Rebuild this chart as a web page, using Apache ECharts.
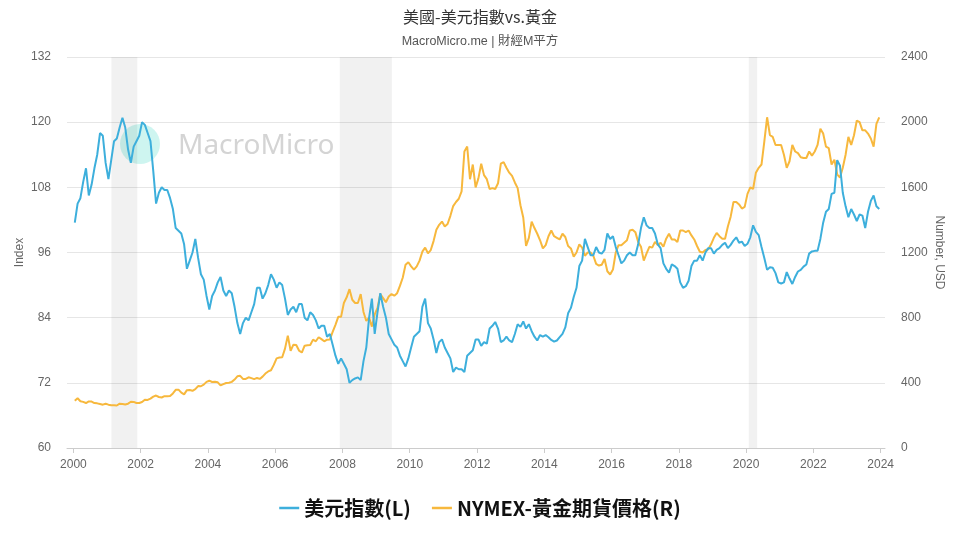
<!DOCTYPE html>
<html><head><meta charset="utf-8">
<script src="https://cdn.jsdelivr.net/npm/echarts@6/dist/echarts.min.js"></script>
<style>html,body{margin:0;padding:0;background:#fff}#c{width:960px;height:540px}</style>
</head><body><div id="c"></div>
<script>
// Monthly data, Jan 2000 .. Dec 2023
var startYear = 2000;
var dxy = [
 101.5,105,106,109,111.5,106.5,108.5,111.5,114,118,117.5,112.5,
 109.5,113,116.5,117,119,120.8,119,115,112.5,115.5,116.5,117.5,
 120,119.5,118,116.5,111,105,107,108,107.5,107.5,106,104,
 100.5,100,99.5,97.5,93,94.5,96,98.5,95,92,91,88,
 85.5,88,89,90.5,91.5,89,88,89,88.5,86,83,81,
 83,84,83.5,85,86.5,89.5,89.5,87.5,88.5,90,92,91,
 89.5,90.5,90,87.5,84.5,85.5,86,85,86.5,86.5,84,83.5,
 85,84.5,83.5,82,82.5,82.5,80.5,81,79,77,75.5,76.5,
 75.5,74.5,72,72.5,72.8,73,72.5,76,78.5,84,87.5,81,
 85,88.5,86,84,81,80,79,78.5,77,76,75,76.5,
 78.5,80.5,81,81.5,86,87.5,83,82,80,77.5,79.5,80,
 78.5,77.5,76.5,74,74.8,74.5,74.5,74,77,77.5,78,80,
 80,78.8,79.5,79.2,82,82.5,83.2,82,79.5,79.8,80.5,79.8,
 79.5,81,82.8,82.3,83.3,82,82.8,81.5,80.5,79.8,80.8,80.5,
 80.8,80.4,79.9,79.6,79.8,80.4,81,82.2,84.8,85.8,87.8,89.5,
 93.5,94.5,98.5,97,95.5,95.5,97,96,95.8,96.5,99.5,98.5,
 99,97,95.5,94,94.5,95.5,96,95.5,95.5,97.5,100.5,102.5,
 101,100.5,100.5,99.5,97.5,96.8,94,93,92.3,93.8,93.5,93,
 90.5,89.5,89.8,90.8,93.5,94.5,94.5,95.5,94.5,96,96.8,96.8,
 95.8,96.5,96.8,97.4,97.8,96.8,97.4,98.2,98.8,97.8,98,97.2,
 97.6,98.8,101,99.8,99.2,97,95,92.8,93.3,93.2,92.2,90.5,
 90.3,90.5,92.4,91.2,90.2,91.5,92.5,92.8,93.4,93.8,95.8,96.2,
 96.3,96.3,98.5,101.5,103.5,104,106.8,107,113,112,107,104.5,
 102.5,104,103,101.8,103,102.8,100.5,103.5,105.5,106.5,104.5,104
];
var gold = [
 290,305,287,283,276,286,285,276,274,270,266,272,
 266,262,263,261,272,270,267,272,284,283,276,276,
 282,296,295,303,315,322,313,310,318,317,319,335,
 357,358,340,329,355,356,351,361,380,379,389,406,
 413,405,407,403,384,392,399,401,406,420,440,443,
 424,424,434,429,423,430,424,438,457,470,477,510,
 550,555,557,610,690,596,634,632,598,586,628,630,
 632,665,655,680,668,655,665,666,713,756,805,805,
 890,925,975,910,890,890,945,835,780,800,745,820,
 860,945,920,895,930,945,935,950,995,1045,1125,1140,
 1115,1095,1115,1150,1205,1230,1195,1215,1270,1340,1370,1390,
 1360,1375,1425,1485,1510,1530,1575,1820,1850,1650,1740,1600,
 1655,1745,1675,1650,1590,1595,1590,1625,1745,1755,1720,1690,
 1670,1630,1595,1490,1415,1240,1290,1390,1350,1315,1275,1225,
 1245,1300,1335,1300,1290,1280,1315,1295,1240,1225,1175,1200,
 1250,1230,1180,1200,1200,1180,1130,1120,1125,1160,1085,1065,
 1095,1200,1245,1245,1260,1275,1335,1340,1325,1265,1235,1150,
 1195,1235,1230,1265,1245,1260,1235,1285,1315,1280,1280,1265,
 1335,1335,1325,1335,1305,1280,1240,1205,1200,1215,1220,1250,
 1290,1320,1300,1285,1285,1360,1420,1510,1510,1495,1470,1480,
 1560,1600,1590,1690,1720,1740,1880,2030,1920,1910,1860,1860,
 1860,1800,1720,1760,1860,1820,1810,1785,1780,1780,1820,1795,
 1820,1860,1960,1930,1850,1840,1740,1770,1680,1660,1720,1800,
 1910,1860,1920,2010,2000,1950,1950,1930,1900,1850,1990,2030
];
var xTicks = [2000,2002,2004,2006,2008,2010,2012,2014,2016,2018,2020,2022,2024];
var leftTicks = [60,72,84,96,108,120,132];
var rightTicks = [0,400,800,1200,1600,2000,2400];
var recessions = [[2001.13,2001.9],[2007.92,2009.47],[2020.08,2020.33]];
var names = ['美元指數(L)','NYMEX-黃金期貨價格(R)'];

function toPairs(arr){
  var out=[];
  for(var i=0;i<arr.length;i++){ out.push([startYear + (i+0.5)/12, arr[i]]); }
  return out;
}

var chart = echarts.init(document.getElementById('c'));
var FONT = "'Liberation Sans','Noto Sans CJK TC',sans-serif";
chart.setOption({
  animation:false,
  textStyle:{fontFamily:FONT},
  title:{
    text:'美國-美元指數vs.黃金', subtext:'MacroMicro.me | 財經M平方',
    left:'center', top:4, itemGap:10,
    textStyle:{fontSize:16,color:'#333',fontWeight:'normal',fontFamily:"'Noto Sans CJK TC',sans-serif"},
    subtextStyle:{fontSize:12.5,color:'#555',fontFamily:FONT}
  },
  graphic:[
    {type:'circle', z:1, silent:true, shape:{cx:140,cy:144,r:20}, style:{fill:'rgba(80,220,200,0.28)'}},
    {type:'text', z:1, silent:true, left:178, top:132, style:{text:'MacroMicro', fontSize:28, fill:'#d4d4d4', fontFamily:"'Noto Sans',sans-serif"}}
  ],
  legend:{
    bottom:17, left:'center', itemGap:21, itemWidth:20, itemHeight:2.5,
    textStyle:{fontSize:20,fontWeight:'bold',color:'#111',fontFamily:"'Noto Sans CJK TC',sans-serif"},
    data:[{name:names[0],icon:'rect'},{name:names[1],icon:'rect'}]
  },
  grid:{left:67,right:75,top:57,bottom:92},
  xAxis:{
    type:'value', min:1999.81, max:2024.13,
    splitLine:{show:false},
    axisLine:{lineStyle:{color:'#ccc'}},
    axisTick:{show:true,length:5,lineStyle:{color:'#ccc'},customValues:xTicks},
    axisLabel:{color:'#666',fontSize:12,margin:11,customValues:xTicks,formatter:function(v){return String(v);}}
  },
  yAxis:[
    {type:'value',min:60,max:132,interval:12,position:'left',
     name:'Index',nameLocation:'middle',nameGap:41,nameRotate:90,nameMoveOverlap:false,
     nameTextStyle:{color:'#666',fontSize:12},
     axisLine:{show:false},axisTick:{show:false},
     axisLabel:{color:'#666',fontSize:12,margin:16},
     splitLine:{lineStyle:{color:'#e6e6e6'}}},
    {type:'value',min:0,max:2400,interval:400,position:'right',
     name:'Number, USD',nameLocation:'middle',nameGap:48,nameRotate:-90,nameMoveOverlap:false,
     nameTextStyle:{color:'#666',fontSize:12},
     axisLine:{show:false},axisTick:{show:false},
     axisLabel:{color:'#666',fontSize:12,margin:16,formatter:function(v){return String(v);}},
     splitLine:{show:false}}
  ],
  series:[
    {name:names[0],type:'line',yAxisIndex:0,data:toPairs(dxy),symbol:'none',z:3,
     lineStyle:{width:2,color:'#3dafdc'},itemStyle:{color:'#3dafdc'},
     markArea:{silent:true,itemStyle:{color:'rgba(0,0,0,0.055)'},
       data:recessions.map(function(r){return [{xAxis:r[0]},{xAxis:r[1]}];})}},
    {name:names[1],type:'line',yAxisIndex:1,data:toPairs(gold),symbol:'none',z:2,
     lineStyle:{width:2,color:'#f7b83d'},itemStyle:{color:'#f7b83d'}}
  ]
});
</script></body></html>
